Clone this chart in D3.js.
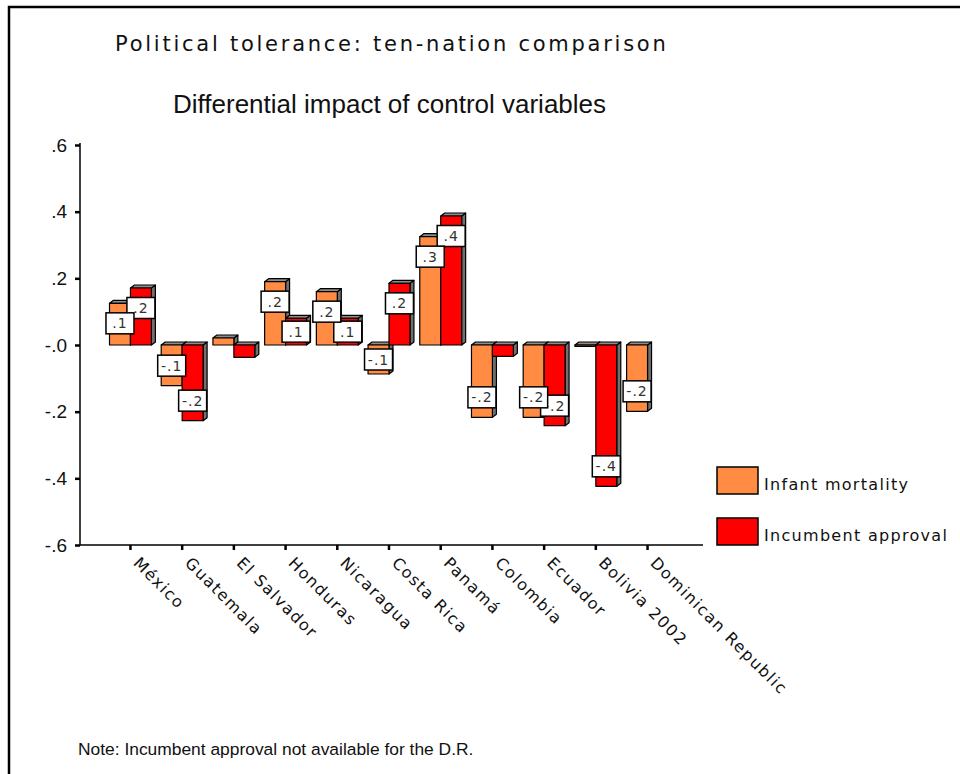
<!DOCTYPE html>
<html><head><meta charset="utf-8">
<script src="https://cdn.jsdelivr.net/npm/d3@7"></script>
<style>body{margin:0;background:#fff}</style>
</head><body>
<svg width="960" height="774"></svg>
<script>
const countries=["México","Guatemala","El Salvador","Honduras","Nicaragua","Costa Rica","Panamá","Colombia","Ecuador","Bolivia 2002","Dominican Republic"];
const infantMortality=[0.125,-0.122,0.021,0.19,0.16,-0.087,0.325,-0.217,-0.217,-0.004,-0.199];
const incumbentApproval=[0.171,-0.227,-0.037,0.08,0.08,0.185,0.387,-0.034,-0.242,-0.424,null];
const yTicks=[0.6,0.4,0.2,0,-0.2,-0.4,-0.6];
const yTickLabels=[".6",".4",".2","-.0","-.2","-.4","-.6"];
const seriesNames=["Infant mortality","Incumbent approval"];
const colors=["#ff8c42","#ff0000"];

const svg=d3.select("svg");
const spaced="'DejaVu Sans', Verdana, sans-serif";
const arial="'Liberation Sans', Arial, sans-serif";
const dx=4, dy=3;

// frame
svg.append("rect").attr("x",9).attr("y",7).attr("width",980).attr("height",800)
   .attr("fill","none").attr("stroke","#000").attr("stroke-width",2.5);

svg.append("text").attr("x",115).attr("y",51).text("Political tolerance: ten-nation comparison")
   .attr("style","font-family:"+spaced+";font-size:21px;letter-spacing:2.75px").attr("fill","#111");
svg.append("text").attr("x",173).attr("y",113).text("Differential impact of control variables")
   .attr("style","font-family:"+arial+";font-size:26px").attr("fill","#111");

const x=d3.scaleBand().domain(countries).range([104.6,673.4]).paddingInner(0.19).paddingOuter(0.095);
const y=d3.scaleLinear().domain([-0.6,0.6]).range([545,145]);
const bw=x.bandwidth()/2;

// axes
const ya=svg.append("g").attr("transform","translate(80,0)")
  .call(d3.axisLeft(y).tickValues(yTicks).tickFormat((d,i)=>yTickLabels[i]).tickSize(5).tickPadding(8));
ya.select(".domain").remove();
ya.selectAll(".tick line").attr("stroke-width",2.5);
ya.selectAll(".tick text").attr("style","font-family:"+arial+";font-size:19px").attr("fill","#111");
svg.append("line").attr("x1",80).attr("x2",80).attr("y1",143).attr("y2",545).attr("stroke","#000").attr("stroke-width",1.5);

const xa=svg.append("g").attr("transform","translate(0,545)")
  .call(d3.axisBottom(x).tickSize(5).tickFormat(""));
xa.select(".domain").remove();
xa.selectAll(".tick line").attr("stroke-width",2.5);
svg.append("line").attr("x1",80).attr("x2",703).attr("y1",545).attr("y2",545).attr("stroke","#000").attr("stroke-width",1.5);

svg.append("g").selectAll("text").data(countries).enter().append("text")
   .attr("transform",d=>"translate("+(x(d)+x.bandwidth()/2+11)+",555) rotate(45)")
   .attr("dy","0.8em")
   .attr("style","font-family:"+spaced+";font-size:16px;letter-spacing:1.5px").attr("fill","#111")
   .text(d=>d);

// 3D bars
const series=[infantMortality,incumbentApproval];
const bars=svg.append("g");
series.forEach((vals,s)=>{
  vals.forEach((v,i)=>{
    if(v===null) return;
    const x0=x(countries[i])+s*bw;
    const top=Math.min(y(0),y(v)), bot=Math.max(y(0),y(v));
    const g=bars.append("g").attr("stroke","#000").attr("stroke-width",1.2).attr("stroke-linejoin","round");
    g.append("polygon").attr("fill","#707070")
     .attr("points",[[x0+bw,top],[x0+bw+dx,top-dy],[x0+bw+dx,bot-dy],[x0+bw,bot]].join(" "));
    g.append("polygon").attr("fill","#8c8c8c")
     .attr("points",[[x0,top],[x0+dx,top-dy],[x0+bw+dx,top-dy],[x0+bw,top]].join(" "));
    g.append("rect").attr("x",x0).attr("y",top).attr("width",bw).attr("height",bot-top).attr("fill",colors[s]);
  });
});

// value labels (red first, orange on top)
const fmt=v=>d3.format(".1f")(v).replace("\u2212","-").replace("0.",".");
const labels=svg.append("g");
[1,0].forEach(s=>{
  series[s].forEach((v,i)=>{
    if(v===null||Math.abs(v)<0.05) return;
    const len=Math.abs(y(v)-y(0));
    const cy=y(v)+(v>0?1:-1)*Math.min(20,len/2);
    const cx=x(countries[i])+s*bw+bw/2;
    const g=labels.append("g").attr("transform","translate("+cx+","+cy+")");
    g.append("rect").attr("x",-14).attr("y",-10.5).attr("width",28).attr("height",21)
     .attr("fill","#fff").attr("stroke","#000").attr("stroke-width",1.5);
    g.append("text").attr("text-anchor","middle").attr("dy","0.36em")
     .attr("style","font-family:"+spaced+";font-size:14px;letter-spacing:1px").attr("fill","#333")
     .text(fmt(v));
  });
});

// legend
const lg=svg.append("g").selectAll("g").data(seriesNames).enter().append("g")
  .attr("transform",(d,i)=>"translate(717,"+(467+i*51)+")");
lg.append("rect").attr("width",41).attr("height",27).attr("fill",(d,i)=>colors[i])
  .attr("stroke","#000").attr("stroke-width",1.5);
lg.append("text").attr("x",47).attr("y",23).text(d=>d)
  .attr("style","font-family:"+spaced+";font-size:16px;letter-spacing:1.3px").attr("fill","#111");

svg.append("text").attr("x",78).attr("y",755).text("Note: Incumbent approval not available for the D.R.")
   .attr("style","font-family:"+arial+";font-size:17.4px").attr("fill","#111");
</script>
</body></html>
